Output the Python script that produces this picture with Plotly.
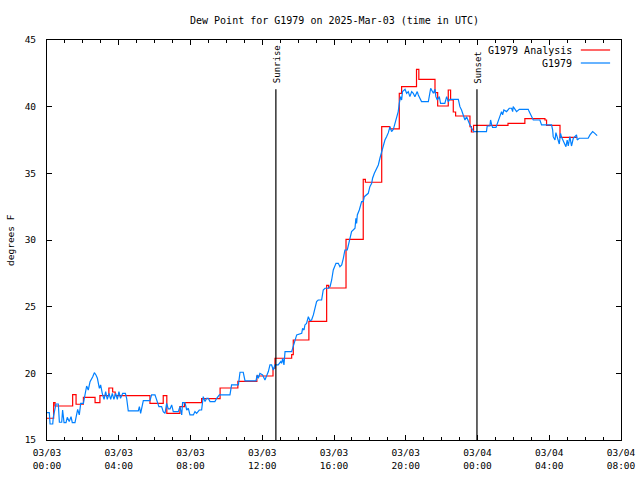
import pandas as pd
import plotly.graph_objects as go

START = pd.Timestamp("2025-03-03 00:00")

# Analysis (step) series: hours since start, degrees F
analysis_hours = [0, 0.37, 0.45, 1.43, 1.62, 2.03, 2.68, 2.95, 3.45, 3.66, 3.8, 5.74, 6.48, 6.68,
                  7.41, 7.66, 8.62, 9.65, 10.64, 11.7, 12.6, 12.71, 13.64, 13.73, 14.6, 15.59, 15.7,
                  16.67, 17.63, 17.75, 18.66, 19.1, 19.64, 19.77, 20.6, 20.73, 21.63, 21.78, 22.37,
                  22.5, 22.65, 22.78, 23.58, 23.66, 23.78, 25.7, 26.64, 27.76, 27.85, 28.6, 29.56]
analysis_vals = [16.63, 17.8, 17.55, 18.4, 17.68, 18.2, 17.8, 18.33, 18.9, 18.6, 18.33, 17.75, 18.33, 17.0,
                 17.5, 17.8, 18.1, 18.9, 19.4, 19.8, 20.38, 21.13, 21.4, 22.5, 23.9, 26.6, 26.4,
                 30.05, 34.55, 34.33, 38.5, 38.33, 41.0, 41.5, 42.8, 42.05, 41.05, 40.05, 41.25,
                 40.5, 39.6, 39.3, 38.5, 38.1, 38.6, 38.75, 39.1, 39.0, 38.6, 37.7, 37.7]

# Observation series: hours since start, degrees F
obs_hours = [0, 0.13, 0.17, 0.32, 0.35, 0.5, 0.63, 0.69, 0.82, 0.87, 0.95, 1.06, 1.13, 1.24, 1.34, 1.41,
             1.56, 1.62, 1.71, 1.8, 1.88, 2.03, 2.12, 2.21, 2.3, 2.4, 2.55, 2.64, 2.73, 2.81, 2.92, 2.99,
             3.08, 3.18, 3.27, 3.36, 3.46, 3.55, 3.64, 3.73, 3.83, 3.92, 4.01, 4.1, 4.22, 4.37, 4.44,
             4.53, 5.09, 5.15, 5.22, 5.37, 5.74, 5.83, 6.02, 6.11, 6.24, 6.39, 6.48, 6.58, 6.67, 6.76,
             6.86, 6.95, 7.04, 7.32, 7.41, 7.51, 7.56, 7.69, 7.79, 7.88, 7.97, 8.16, 8.25, 8.34, 8.49,
             8.62, 8.71, 8.81, 8.9, 8.99, 9.09, 9.36, 9.46, 9.61, 10.2, 10.29, 10.67, 10.76, 10.94, 11.04,
             11.65, 11.72, 11.78, 11.87, 12.02, 12.15, 12.34,
             12.43, 12.52, 12.62, 12.71, 12.89, 12.95, 13.03, 13.08, 13.14, 13.21, 13.27, 13.64, 13.73,
             13.82, 13.92, 14.2, 14.25, 14.33, 14.38, 14.47, 14.57, 14.66, 14.75, 14.85, 14.94, 15.03,
             15.12, 15.31, 15.4, 15.5, 15.68, 15.78, 15.87, 15.96, 16.11, 16.24, 16.33, 16.43, 16.52,
             16.61, 16.74, 16.89, 16.98, 17.17, 17.22, 17.26, 17.3, 17.41, 17.54, 17.63, 17.69, 17.91,
             18.0, 18.1, 18.15, 18.25, 18.34, 18.47, 18.56, 18.66, 18.71, 18.84, 18.93, 19.03, 19.12,
             19.21, 19.31, 19.4, 19.49, 19.58, 19.64, 19.71, 19.77, 19.82, 19.96, 20.05, 20.14, 20.23,
             20.33, 20.42, 20.51, 20.64, 20.7, 20.88, 21.26, 21.31, 21.39, 21.54, 21.63, 21.68, 21.76,
             21.87, 21.94, 22.18, 22.28, 22.37, 22.46, 22.93, 23.02, 23.11, 23.21, 23.3, 23.39, 23.49,
             23.58, 23.73, 23.8, 24.5, 24.54, 24.69, 24.73, 24.79, 24.84, 25.03, 25.1, 25.21, 25.34,
             25.4, 25.47, 25.62, 25.77, 25.9, 25.96, 25.99, 26.09, 26.18, 26.33, 26.83, 26.88, 26.96,
             27.11, 27.48, 27.57, 28.13, 28.19, 28.22, 28.32, 28.37, 28.5, 28.56, 28.63, 28.69, 28.93,
             29.0, 29.06, 29.15, 29.24, 29.34, 29.52, 29.56, 29.67, 30.17, 30.27, 30.42, 30.54, 30.67]
obs_vals = [17.05, 17.05, 16.2, 16.2, 16.7, 17.7, 17.7, 16.33, 16.33, 17.25, 16.3, 16.3, 16.7, 16.38,
            16.75, 16.3, 16.3, 16.68, 17.3, 16.88, 17.75, 17.75, 18.5, 19.05, 18.75, 19.38, 19.75, 20.05,
            19.88, 19.63, 18.88, 19.13, 18.5, 18.05, 18.63, 18.05, 18.5, 18.05, 18.5, 18.05, 18.5, 18.05,
            18.63, 18.13, 18.5, 18.5, 18.13, 17.18, 17.18, 17.5, 17.0, 17.95, 17.95, 18.38, 18.38, 17.95,
            17.5, 17.5, 17.13, 17.0, 17.75, 17.33, 17.33, 17.63, 17.13, 17.13, 17.5, 16.88, 17.8, 17.8,
            17.25, 17.38, 16.88, 16.88, 17.13, 17.0, 17.25, 17.25, 18.25, 17.88, 18.13, 18.13, 17.88,
            17.88, 18.13, 18.38, 18.38, 19.13, 19.13, 20.08, 20.08, 19.43, 19.43, 19.88, 19.63, 20.0,
            19.88, 19.5, 20.13,
            20.63, 20.63, 20.25, 20.63, 20.63, 20.75, 20.88, 20.75, 21.13, 20.63, 21.63, 21.63, 22.0,
            22.5, 22.88, 23.0, 23.38, 23.25, 23.63, 23.75, 24.25, 23.95, 24.0, 24.38, 24.88, 25.38,
            25.5, 25.5, 26.25, 26.38, 26.38, 26.5, 27.0, 27.75, 28.25, 28.25, 28.0, 28.13, 28.63,
            29.25, 29.25, 30.05, 30.63, 30.88, 31.63, 31.25, 31.88, 32.25, 32.88, 32.88, 33.25, 33.5,
            34.0, 34.25, 34.63, 35.0, 35.25, 35.63, 36.13, 36.63, 36.88, 37.5, 37.75, 38.05, 38.5,
            38.13, 38.3, 38.75, 39.25, 39.63, 40.25, 40.75, 40.5, 41.13, 41.3, 41.0, 41.13, 40.75,
            41.13, 41.0, 40.75, 41.13, 40.88, 40.38, 40.38, 40.75, 41.38, 41.0, 41.3, 40.75, 40.5,
            40.75, 40.25, 40.25, 40.75, 40.38, 40.55, 40.55, 40.0, 39.75, 39.38, 39.0, 39.25, 38.88,
            38.63, 38.25, 38.13, 38.13, 38.55, 38.55, 39.0, 38.63, 38.45, 38.45, 38.75, 39.25, 39.63,
            39.38, 39.75, 39.63, 39.88, 39.88, 39.63, 40.0, 39.75, 39.63, 39.8, 39.8, 39.63, 39.38,
            39.0, 39.0, 38.63, 38.63, 38.25, 37.75, 37.5, 38.05, 37.55, 37.2, 38.0, 37.7, 37.0,
            37.5, 37.05, 37.75, 37.05, 37.63, 37.88, 37.5, 37.63, 37.63, 37.88, 38.13, 38.0, 37.83]

sunrise_hours = 12.76
sunset_hours = 23.97
event_line_top = 41.3

tick_hours = [0, 4, 8, 12, 16, 20, 24, 28, 32]
tick_labels = ["03/03<br>00:00", "03/03<br>04:00", "03/03<br>08:00", "03/03<br>12:00",
               "03/03<br>16:00", "03/03<br>20:00", "03/04<br>00:00", "03/04<br>04:00",
               "03/04<br>08:00"]
y_ticks = [15, 20, 25, 30, 35, 40, 45]

RED = "#ff0000"
BLUE = "#0080ff"
FONT = "DejaVu Sans Mono"


def to_time(hours):
    return [START + pd.Timedelta(hours=h) for h in hours]


fig = go.Figure()
fig.add_trace(go.Scatter(x=to_time(analysis_hours), y=analysis_vals, mode="lines",
                         line=dict(color=RED, width=1.2, shape="hv"), name="G1979 Analysis",
                         showlegend=False))
fig.add_trace(go.Scatter(x=to_time(obs_hours), y=obs_vals, mode="lines",
                         line=dict(color=BLUE, width=1.2), name="G1979", showlegend=False))

for h, label in [(sunrise_hours, "Sunrise"), (sunset_hours, "Sunset")]:
    t = START + pd.Timedelta(hours=h)
    fig.add_shape(type="line", xref="x", yref="y", x0=t, x1=t, y0=15, y1=event_line_top,
                  line=dict(color="black", width=1.2))
    fig.add_annotation(x=t, y=event_line_top, xref="x", yref="y", text=label, textangle=-90,
                       showarrow=False, yanchor="bottom", xanchor="center", yshift=4, xshift=1,
                       font=dict(family=FONT, size=9, color="black"))

# manual legend (text on the left, sample on the right, as in the original)
for i, (label, color) in enumerate([("G1979 Analysis", RED), ("G1979", BLUE)]):
    yy = 0.975 - i * 0.0325
    fig.add_annotation(x=0.918, y=yy, xref="paper", yref="paper", text=label, showarrow=False,
                       xanchor="right", yanchor="middle", font=dict(family=FONT, size=10, color="black"))
    fig.add_shape(type="line", xref="paper", yref="paper", x0=0.930, x1=0.981, y0=yy, y1=yy,
                  line=dict(color=color, width=1.2))

# title and y-axis title as text annotations
fig.add_annotation(x=0.5, y=1, xref="paper", yref="paper", yanchor="middle", yshift=20,
                   text="Dew Point for G1979 on 2025-Mar-03 (time in UTC)", showarrow=False,
                   font=dict(family=FONT, size=10, color="black"))
fig.add_annotation(x=0, y=0.5, xref="paper", yref="paper", xanchor="center", xshift=-37,
                   text="degrees F", textangle=-90, showarrow=False,
                   font=dict(family=FONT, size=9.5, color="black"))

fig.update_layout(
    width=640, height=480,
    margin=dict(l=47, r=19, t=40, b=40),
    paper_bgcolor="white", plot_bgcolor="white",
    font=dict(family=FONT, size=9, color="black"),
    showlegend=False,
)
fig.update_xaxes(
    range=[START, START + pd.Timedelta(hours=32)],
    tickvals=to_time(tick_hours), ticktext=tick_labels,
    ticks="inside", ticklen=5, tickcolor="black", tickwidth=1,
    minor=dict(ticks="inside", ticklen=3, dtick=3600000, tickcolor="black", tick0=START),
    showline=True, linecolor="black", linewidth=1, mirror="ticks",
    showgrid=False, zeroline=False, automargin=False, ticklabelstandoff=4,
    tickfont=dict(family=FONT, size=9.5, color="black"),
)
fig.update_yaxes(
    range=[15, 45], tickvals=y_ticks,
    ticks="inside", ticklen=5, tickcolor="black", tickwidth=1,
    showline=True, linecolor="black", linewidth=1, mirror="ticks",
    showgrid=False, zeroline=False, automargin=False, ticklabelstandoff=8,
    tickfont=dict(family=FONT, size=9.5, color="black"),
)

# remove the default page margin so the 640x480 figure fills the window exactly
fig.write_html("out.html", config={"displayModeBar": False},
               post_script="document.body.style.margin='0';document.body.style.overflow='hidden';")
